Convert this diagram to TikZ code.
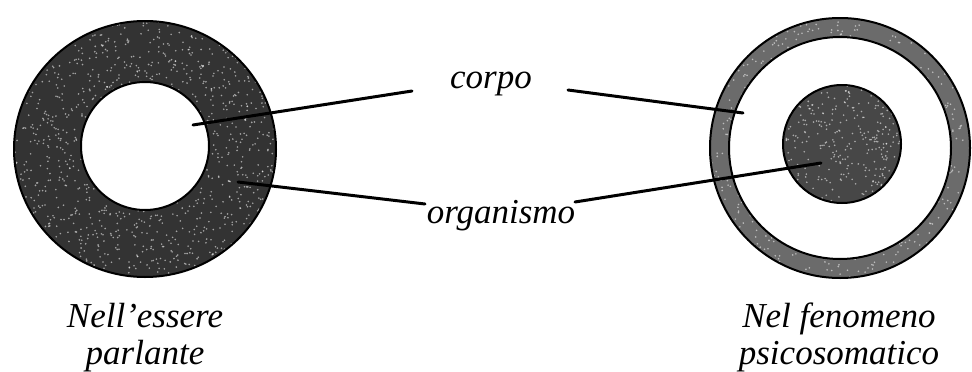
\documentclass[tikz,border=0pt]{standalone}
\usepackage{fontspec}
\setmainfont{Liberation Serif}
\begin{document}
\begin{tikzpicture}[x=1pt,y=-1pt,
  label/.style={inner sep=0pt, font=\fontsize{35}{37}\selectfont\itshape},
  lead/.style={line width=3pt, line cap=round},
  rim/.style={draw=black, line width=2pt},
  fleck/.style={fill=white, opacity=0.55}]
\useasboundingbox (0,0) rectangle (972,372);
\pgfmathsetseed{4711}

% left: thick dark ring around a white hole
\fill[black!80] (145,149) circle[x radius=131, y radius=128];
\begin{scope}
  \clip (145,149) circle[x radius=131, y radius=128];
  \foreach \i in {1,...,1400}
    \fill[fleck] (145+131*rand,149+128*rand) circle[radius=0.9];
\end{scope}
\draw[rim] (145,149) circle[x radius=131, y radius=128];
\node[circle, fill=white, rim, minimum size=128pt, inner sep=0pt] (hole) at (145,146) {};

% right: thin grey rim with a dark disk inside
\fill[black!58] (840,148) circle[radius=130];
\begin{scope}
  \clip (840,148) circle[radius=130];
  \foreach \i in {1,...,900}
    \fill[fleck] (840+130*rand,148+130*rand) circle[radius=0.9];
\end{scope}
\draw[rim] (840,148) circle[radius=130];
\fill[white, rim] (840,148) circle[radius=111];
\node[circle, fill=black!72, rim, minimum size=118pt, inner sep=0pt] (disk) at (842,144) {};
\begin{scope}
  \clip (842,144) circle[radius=58];
  \foreach \i in {1,...,300}
    \fill[fleck] (842+58*rand,144+58*rand) circle[radius=0.9];
\end{scope}

% labels
\node[label, anchor=base] (corpo) at (491,88) {corpo};
\node[label, anchor=base] (org) at (501,223) {organismo};
\node[label, anchor=base, align=center] (speak) at (145,364) {Nell’essere\\parlante};
\node[label, anchor=base, align=center] (psy) at (839,364) {Nel fenomeno\\psicosomatico};

% leader ends
\coordinate (c1) at (412,91);
\coordinate (c1e) at (193,125);
\coordinate (c2) at (568,90);
\coordinate (c2e) at (743,113);
\coordinate (o1) at (425,204);
\coordinate (o1e) at (238,182);
\coordinate (o2) at (575,202);
\coordinate (o2e) at (821,163);

\draw[lead] (c1) -- (c1e);
\draw[lead] (c2) -- (c2e);
\draw[lead] (o1) -- (o1e);
\draw[lead] (o2) -- (o2e);
\end{tikzpicture}
\end{document}
